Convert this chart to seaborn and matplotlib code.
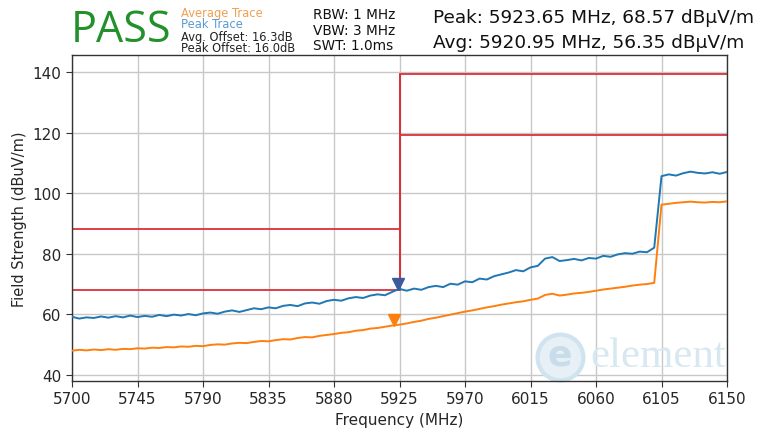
import numpy as np
import pandas as pd
import matplotlib
matplotlib.use("Agg")
import matplotlib.pyplot as plt
import seaborn as sns

# ---------------- data ----------------
# sweep: 5700 .. 6150 MHz, 5 MHz step
freq_start, freq_stop, freq_step = 5700, 6150, 5
freq = np.arange(freq_start, freq_stop + 1, freq_step)

peak_trace = [
    59.2, 58.6, 59.0, 58.8, 59.3, 58.9, 59.4, 59.0, 59.6, 59.1,
    59.5, 59.2, 59.8, 59.4, 59.9, 59.6, 60.1, 59.7, 60.3, 60.6,
    60.2, 60.9, 61.3, 60.8, 61.4, 62.0, 61.7, 62.3, 62.0, 62.8,
    63.1, 62.7, 63.6, 63.9, 63.5, 64.4, 64.8, 64.5, 65.3, 65.7,
    65.4, 66.2, 66.6, 66.3, 67.4, 68.4, 67.8, 68.5, 68.1, 69.0,
    69.4, 69.0, 70.1, 69.8, 70.9, 70.6, 71.8, 71.5, 72.6, 73.2,
    73.8, 74.6, 74.2, 75.5, 76.0, 78.4, 78.9, 77.6, 77.9, 78.3,
    77.8, 78.6, 78.4, 79.3, 79.0, 79.8, 80.2, 80.0, 80.7, 80.5,
    82.0, 105.6, 106.2, 105.8, 106.6, 107.1, 106.7, 106.5, 106.9, 106.4,
    107.0,
]
avg_trace = [
    48.0, 48.3, 48.1, 48.4, 48.2, 48.5, 48.3, 48.6, 48.5, 48.8,
    48.7, 49.0, 48.9, 49.2, 49.1, 49.4, 49.3, 49.6, 49.5, 49.9,
    50.1, 50.0, 50.4, 50.6, 50.5, 50.9, 51.2, 51.1, 51.5, 51.8,
    51.7, 52.2, 52.5, 52.4, 52.9, 53.2, 53.5, 53.9, 54.1, 54.6,
    54.8, 55.3, 55.5, 55.9, 56.3, 56.6, 57.0, 57.5, 57.9, 58.5,
    58.9, 59.4, 59.9, 60.4, 60.9, 61.3, 61.8, 62.3, 62.7, 63.2,
    63.6, 64.0, 64.3, 64.8, 65.2, 66.4, 66.8, 66.2, 66.5, 66.9,
    67.1, 67.4, 67.8, 68.2, 68.5, 68.8, 69.1, 69.5, 69.8, 70.0,
    70.4, 96.2, 96.5, 96.8, 97.0, 97.2, 97.0, 96.9, 97.1, 97.0,
    97.3,
]

# limit lines (step at 5925 MHz)
limit_freq = [5700, 5925, 5925, 6150]
limit_peak = [88.2, 88.2, 139.3, 139.3]
limit_avg = [68.2, 68.2, 119.3, 119.3]

peak_freq, peak_val = 5923.65, 68.57
avg_freq, avg_val = 5920.95, 56.35

xticks = [5700, 5745, 5790, 5835, 5880, 5925, 5970, 6015, 6060, 6105, 6150]
yticks = [40, 60, 80, 100, 120, 140]

df = pd.DataFrame({"freq": freq, "peak": peak_trace, "avg": avg_trace})

# ---------------- plot ----------------
sns.set_style("ticks")
plt.rcParams['font.family'] = ['DejaVu Sans']

fig = plt.figure(figsize=(7.63, 4.35), dpi=100)
ax = fig.add_axes([72 / 763, 1 - 382 / 435, (727 - 72) / 763, (382 - 56) / 435])

ax.grid(True, color='#c8c8c8', linewidth=1.0, zorder=0)
ax.set_axisbelow(True)

sns.lineplot(data=df, x="freq", y="peak", color='#1f77b4', linewidth=1.4, ax=ax, zorder=3)
sns.lineplot(data=df, x="freq", y="avg", color='#ff7f0e', linewidth=1.4, ax=ax, zorder=3)

red = '#d9313a'
ax.plot(limit_freq, limit_peak, color=red, linewidth=1.3, zorder=2)
ax.plot(limit_freq, limit_avg, color=red, linewidth=1.3, zorder=2)
ax.plot([5925, 5925], [limit_avg[0], limit_peak[-1]], color=red, linewidth=1.3, zorder=2)

# markers just above the trace points
ax.plot(peak_freq, peak_val + 1.6, marker='v', markersize=9, color='#3d5a9e', zorder=5)
ax.plot(avg_freq, avg_val + 1.8, marker='v', markersize=9, color='#ff7f0e', zorder=5)

ax.set_xlim(5700, 6150)
ax.set_ylim(38, 145.6)
ax.set_xticks(xticks)
ax.set_yticks(yticks)
ax.tick_params(labelsize=11, length=4, color='#333333')
ax.set_xlabel("Frequency (MHz)", fontsize=11)
ax.set_ylabel("Field Strength (dBuV/m)", fontsize=10.5)
for s in ax.spines.values():
    s.set_color('#333333')
    s.set_linewidth(1.0)

# watermark (faint logo)
ax.plot([0.745], [0.074], marker='o', markersize=33, markerfacecolor='#e6f0f6',
        markeredgecolor='#d0e3ee', markeredgewidth=3, transform=ax.transAxes,
        zorder=1, clip_on=False)
ax.text(0.745, 0.080, "e", transform=ax.transAxes, ha='center', va='center',
        fontsize=26, fontweight='bold', color='#c8dde9', zorder=1)
ax.text(0.792, 0.078, "element", transform=ax.transAxes, ha='left', va='center',
        fontsize=31, color='#d8e8f1', zorder=1, family=['Liberation Serif', 'DejaVu Serif'])

# header texts
def ftext(px, py, s, **kw):
    fig.text(px / 763, 1 - py / 435, s, va='center', ha='left', **kw)

ftext(71, 31, "PASS", fontsize=31, color='#22912b', family=['Open Sans', 'DejaVu Sans'])
ftext(181, 13, "Average Trace", fontsize=8.3, color='#f0a050')
ftext(181, 25, "Peak Trace", fontsize=8.3, color='#5a9bd0')
ftext(181, 37, "Avg. Offset: 16.3dB", fontsize=8.3, color='#222222')
ftext(181, 49, "Peak Offset: 16.0dB", fontsize=8.3, color='#222222')
ftext(313, 15, "RBW: 1 MHz", fontsize=9.8, color='#111111')
ftext(313, 31, "VBW: 3 MHz", fontsize=9.8, color='#111111')
ftext(313, 46, "SWT: 1.0ms", fontsize=9.8, color='#111111')
ftext(433, 18, f"Peak: {peak_freq:.2f} MHz, {peak_val:.2f} dBµV/m", fontsize=13.3, color='#111111')
ftext(433, 43, f"Avg: {avg_freq:.2f} MHz, {avg_val:.2f} dBµV/m", fontsize=13.3, color='#111111')

fig.savefig("out.png", dpi=100)
